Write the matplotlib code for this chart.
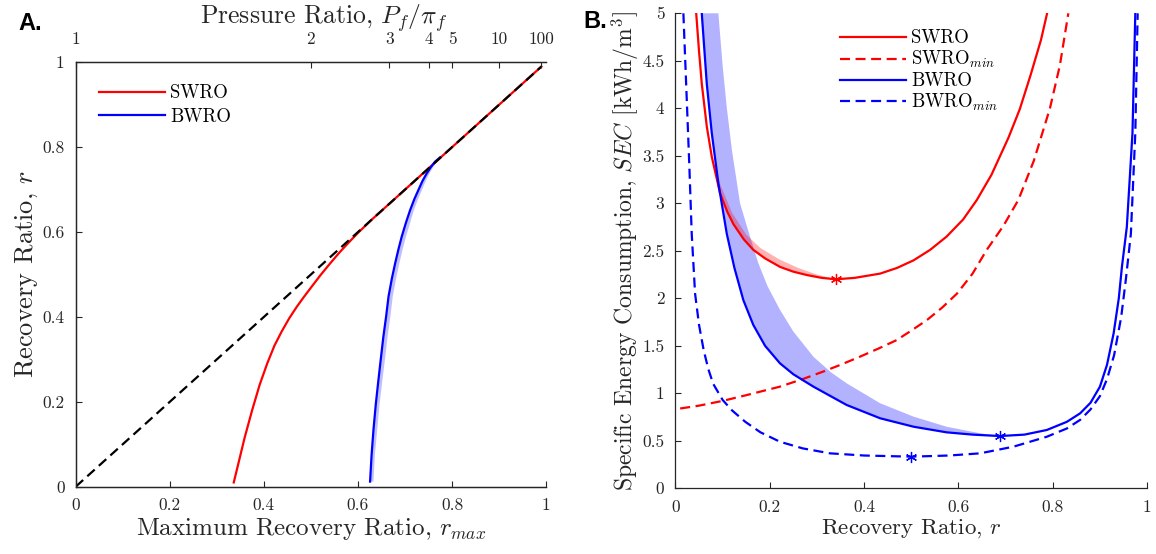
import matplotlib
matplotlib.use("Agg")
import matplotlib.pyplot as plt
import numpy as np

plt.rcParams["font.family"] = ["cmr10"]
plt.rcParams["mathtext.fontset"] = "cm"
plt.rcParams["axes.formatter.use_mathtext"] = True
plt.rcParams["axes.unicode_minus"] = False

# ------------------------------
# Panel A data: r vs r_max
# ------------------------------
swro_rmax = [0.336, 0.345, 0.359, 0.375, 0.391, 0.407, 0.4225, 0.438, 0.454, 0.47, 0.485, 0.50,
             0.52, 0.54, 0.56, 0.58, 0.60, 0.63, 0.70, 0.80, 0.90, 0.99]
swro_r = [0.010, 0.051, 0.115, 0.180, 0.240, 0.290, 0.3325, 0.366, 0.397, 0.424, 0.447, 0.469,
          0.498, 0.525, 0.551, 0.575, 0.598, 0.63, 0.70, 0.80, 0.90, 0.99]

bwro_rmax = [0.6258, 0.629, 0.633, 0.638, 0.6435, 0.649, 0.654, 0.66, 0.665, 0.672, 0.679, 0.686,
             0.693, 0.702, 0.711, 0.72, 0.7285, 0.737, 0.746, 0.755, 0.764, 0.7746]
bwro_r = [0.012, 0.075, 0.134, 0.195, 0.251, 0.305, 0.353, 0.402, 0.448, 0.49, 0.526, 0.559,
          0.589, 0.622, 0.652, 0.678, 0.699, 0.72, 0.738, 0.753, 0.766, 0.776]
bwro_band_rmax = [0.633, 0.636, 0.641, 0.646, 0.652, 0.658, 0.663, 0.669, 0.674, 0.681, 0.688, 0.695,
                  0.702, 0.711, 0.719, 0.728, 0.736, 0.744, 0.752, 0.760, 0.767, 0.7746]

diag_x = [0.0, 0.99]
diag_y = [0.0, 0.99]

pr_ticks = [1, 2, 3, 4, 5, 10, 100]

# ------------------------------
# Panel B data: SEC vs r
# ------------------------------
swro_x = [0.044, 0.050, 0.0558, 0.0664, 0.077, 0.0946, 0.11, 0.123, 0.145, 0.165, 0.19, 0.222,
          0.25, 0.2785, 0.31, 0.34, 0.38, 0.434, 0.47, 0.505, 0.54, 0.575, 0.61, 0.639, 0.67,
          0.706, 0.73, 0.753, 0.775, 0.788]
swro_sec = [5.0, 4.6, 4.26, 3.81, 3.49, 3.105, 2.91, 2.78, 2.62, 2.51, 2.42, 2.33,
            2.28, 2.245, 2.215, 2.20, 2.215, 2.26, 2.32, 2.40, 2.51, 2.65, 2.83, 3.035, 3.30,
            3.69, 3.99, 4.35, 4.72, 5.0]
swro_band_x = [0.08, 0.095, 0.12, 0.15, 0.18, 0.22, 0.26, 0.30, 0.34]
swro_band_sec = [3.45, 3.2, 2.9, 2.67, 2.53, 2.41, 2.32, 2.25, 2.20]

swromin_x = [0.01, 0.05, 0.10, 0.15, 0.2215, 0.27, 0.314, 0.35, 0.391, 0.43, 0.469, 0.50, 0.533,
             0.565, 0.597, 0.63, 0.66, 0.695, 0.727, 0.76, 0.794, 0.815, 0.833]
swromin_sec = [0.84, 0.87, 0.92, 0.98, 1.07, 1.15, 1.23, 1.30, 1.385, 1.47, 1.56, 1.66, 1.77,
               1.90, 2.05, 2.26, 2.51, 2.76, 3.035, 3.45, 4.0, 4.45, 5.0]

bwro_x = [0.0558, 0.0664, 0.077, 0.091, 0.1088, 0.125, 0.144, 0.165, 0.19, 0.2215, 0.25, 0.2925,
          0.363, 0.434, 0.505, 0.575, 0.63, 0.688, 0.74, 0.7875, 0.83, 0.858, 0.88, 0.90, 0.915,
          0.929, 0.94, 0.9466, 0.957, 0.969, 0.975]
bwro_sec = [5.0, 4.26, 3.74, 3.21, 2.68, 2.32, 1.98, 1.72, 1.50, 1.316, 1.20, 1.07,
            0.877, 0.737, 0.648, 0.589, 0.565, 0.55, 0.565, 0.614, 0.70, 0.789, 0.90, 1.07, 1.30,
            1.63, 2.0, 2.33, 2.75, 3.74, 5.0]
bwro_band_x = [0.091, 0.10, 0.109, 0.12, 0.137, 0.155, 0.175, 0.195, 0.2215, 0.25, 0.2925,
               0.33, 0.363, 0.434, 0.505, 0.575, 0.646, 0.688]
bwro_band_sec = [5.0, 4.45, 4.0, 3.55, 3.0, 2.7, 2.38, 2.13, 1.88, 1.65, 1.385,
                 1.22, 1.105, 0.895, 0.754, 0.648, 0.579, 0.55]

bwromin_x = [0.0168, 0.024, 0.0295, 0.0345, 0.0416, 0.05, 0.06, 0.07, 0.08, 0.10, 0.12, 0.148,
             0.18, 0.2215, 0.27, 0.3275, 0.40, 0.5, 0.58, 0.646, 0.7166, 0.7875, 0.83, 0.858,
             0.88, 0.90, 0.915, 0.93, 0.945, 0.955, 0.9656, 0.975, 0.98]
bwromin_sec = [5.0, 4.09, 3.385, 2.68, 2.05, 1.72, 1.45, 1.25, 1.10, 0.93, 0.82, 0.70,
               0.59, 0.49, 0.42, 0.368, 0.345, 0.333, 0.345, 0.368, 0.438, 0.543, 0.63, 0.72,
               0.83, 0.97, 1.15, 1.40, 1.80, 2.2, 2.68, 3.74, 5.0]

opt_swro = (0.34, 2.20)
opt_bwro = (0.688, 0.55)
opt_bwromin = (0.50, 0.333)

# ------------------------------
# Style
# ------------------------------
axcol = "#262626"
lw = 1.6
dash = (4.5, 2.5)
star = (6, 2, 0)


def style_axis(ax):
    ax.tick_params(direction="in", length=4, width=0.8, colors=axcol, labelsize=12.5, pad=8)
    for s in ax.spines.values():
        s.set_color(axcol)
        s.set_linewidth(0.9)


fig = plt.figure(figsize=(11.56, 5.54), dpi=100)

# ------------------------------
# Panel A
# ------------------------------
axA = fig.add_axes([0.0655, 0.1215, 0.4069, 0.766])
axA.fill(np.concatenate([bwro_rmax, bwro_band_rmax[::-1]]),
         np.concatenate([bwro_r, bwro_r[::-1]]),
         color="blue", alpha=0.25, lw=0)
axA.plot(swro_rmax, swro_r, color="red", lw=lw, label="SWRO")
axA.plot(bwro_rmax, bwro_r, color="blue", lw=lw, label="BWRO")
axA.plot(diag_x, diag_y, color="black", lw=lw, ls="--", dashes=dash)

axA.set_xlim(0, 1)
axA.set_ylim(0, 1)
ticks = [0, 0.2, 0.4, 0.6, 0.8, 1]
tick_lbl = ["0", "0.2", "0.4", "0.6", "0.8", "1"]
axA.set_xticks(ticks, tick_lbl)
axA.set_yticks(ticks, tick_lbl)
axA.spines["right"].set_visible(False)
style_axis(axA)
axA.set_xlabel("Maximum Recovery Ratio, $r_{max}$", fontsize=18, color=axcol, labelpad=2)
axA.set_ylabel("Recovery Ratio, $r$", fontsize=19, color=axcol, labelpad=2)

axT = axA.twiny()
axT.set_xlim(0, 1)
axT.set_xticks([1 - 1 / p for p in pr_ticks], [str(p) for p in pr_ticks])
axT.spines["right"].set_visible(False)
style_axis(axT)
axT.tick_params(pad=11)
axT.set_xlabel("Pressure Ratio, $P_f/\\pi_f$", fontsize=18.5, color=axcol)
axT.xaxis.set_label_coords(0.528, 1.092)

axA.legend(loc="upper left", bbox_to_anchor=(0.0856, 0.848), bbox_transform=fig.transFigure,
           frameon=False, fontsize=13.5, handlelength=3.5, handletextpad=0.3,
           labelspacing=0.3, borderpad=0, borderaxespad=0)

# ------------------------------
# Panel B
# ------------------------------
axB = fig.add_axes([0.5843, 0.1186, 0.408, 0.8574])
axB.fill(np.concatenate([bwro_x[:18], bwro_band_x[::-1]]),
         np.concatenate([bwro_sec[:18], bwro_band_sec[::-1]]),
         color="blue", alpha=0.3, lw=0)
axB.fill(np.concatenate([swro_x[4:16], swro_band_x[::-1]]),
         np.concatenate([swro_sec[4:16], swro_band_sec[::-1]]),
         color="red", alpha=0.3, lw=0)

axB.plot(swro_x, swro_sec, color="red", lw=lw, label="SWRO")
axB.plot(swromin_x, swromin_sec, color="red", lw=lw, ls="--", dashes=dash, label="SWRO$_{min}$")
axB.plot(bwro_x, bwro_sec, color="blue", lw=lw, label="BWRO")
axB.plot(bwromin_x, bwromin_sec, color="blue", lw=lw, ls="--", dashes=dash, label="BWRO$_{min}$")

axB.plot(*opt_swro, marker=star, color="red", ms=8, mew=0.9, ls="none")
axB.plot(*opt_bwro, marker=star, color="blue", ms=8, mew=0.9, ls="none")
axB.plot(*opt_bwromin, marker=star, color="blue", ms=8, mew=0.9, ls="none")

axB.set_xlim(0, 1)
axB.set_ylim(0, 5)
axB.set_xticks(ticks, tick_lbl)
axB.set_yticks(np.arange(0, 5.01, 0.5), ["0", "0.5", "1", "1.5", "2", "2.5", "3", "3.5", "4", "4.5", "5"])
axB.spines["right"].set_visible(False)
axB.spines["top"].set_visible(False)
style_axis(axB)
axB.set_xlabel("Recovery Ratio, $r$", fontsize=16.5, color=axcol, labelpad=2)
axB.set_ylabel("Specific Energy Consumption, $SEC$ [kWh/m$^3$]", fontsize=17, color=axcol)
axB.yaxis.set_label_coords(-0.072, 0.5)

axB.legend(loc="upper left", bbox_to_anchor=(0.7266, 0.947), bbox_transform=fig.transFigure,
           frameon=False, fontsize=13.5, handlelength=3.5, handletextpad=0.3,
           labelspacing=0.1, borderpad=0, borderaxespad=0)

fig.text(0.016, 0.945, "A.", fontsize=17, fontweight="bold", family="Liberation Sans")
fig.text(0.5043, 0.949, "B.", fontsize=17, fontweight="bold", family="Liberation Sans")

fig.savefig("out.png", dpi=100)
